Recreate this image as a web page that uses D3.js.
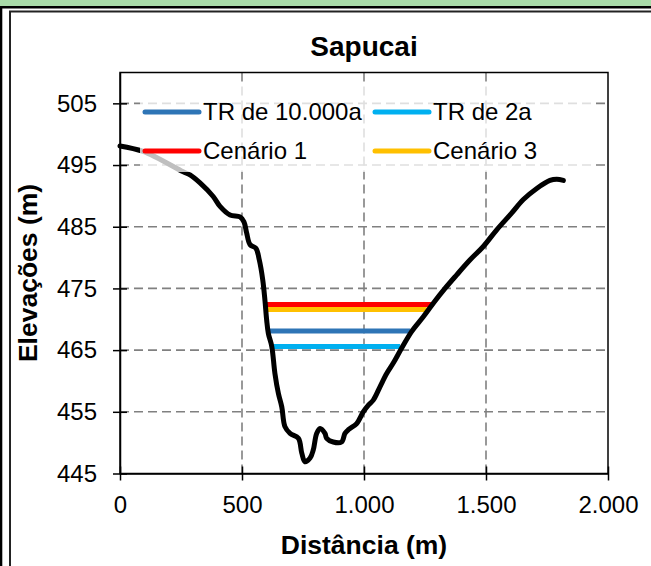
<!DOCTYPE html>
<html>
<head>
<meta charset="utf-8">
<script src="https://cdn.jsdelivr.net/npm/d3@7"></script>
<style>
  body { margin: 0; background: #fff; }
  text { font-family: "Liberation Sans", Arial, sans-serif; fill: #000; }
</style>
</head>
<body>
<script>
// profile of the cross section (distance m, elevation m)
var distance = [0, 95, 259, 287, 328, 382, 410, 451, 492, 508, 519, 533, 557, 571, 585, 594, 601, 608, 622, 635, 649, 663, 676, 697, 731, 745, 758, 779, 792, 806, 820, 840, 847, 874, 908, 922, 936, 970, 997, 1018, 1038, 1066, 1093, 1120, 1154, 1195, 1243, 1284, 1332, 1380, 1434, 1489, 1544, 1605, 1653, 1708, 1762, 1790, 1817];
var elevation = [498.1, 497.2, 493.9, 493.4, 492.1, 489.9, 488.3, 486.9, 486.6, 485.8, 484.0, 482.1, 481.5, 479.6, 476.4, 473.1, 469.9, 467.7, 465.6, 461.2, 458.0, 455.8, 452.6, 451.5, 450.7, 448.3, 446.9, 447.5, 448.8, 451.5, 452.3, 451.5, 450.7, 450.1, 450.1, 451.5, 452.1, 453.1, 455.0, 456.1, 456.9, 459.1, 461.2, 462.9, 465.3, 468.0, 470.4, 472.6, 475.0, 477.2, 479.6, 481.8, 484.5, 487.2, 489.4, 491.2, 492.5, 492.7, 492.5];

// water levels
var levelNames = ["TR de 10.000a", "TR de 2a", "Cenário 1", "Cenário 3"];
var levelElev = [468.1, 465.6, 472.4, 471.6];
var levelStart = [608, 630, 598, 598];
var levelEnd = [1190, 1148, 1284, 1257];
var levelColors = ["#2E75B6", "#00B0F0", "#FF0000", "#FFC000"];

var xTicks = [0, 500, 1000, 1500, 2000];
var yTicks = [445, 455, 465, 475, 485, 495, 505];

var W = 651, H = 566;
var pLeft = 120, pRight = 608, pTop = 72.5, pBottom = 473.5;

var pt = d3.formatLocale({decimal: ",", thousands: ".", grouping: [3], currency: ["R$", ""]});
var fmt = pt.format(",d");

var svg = d3.select("body").append("svg")
    .attr("width", W)
    .attr("height", H);

// outer frame
svg.append("rect").attr("x", 0).attr("y", 0).attr("width", W).attr("height", 6).attr("fill", "#a9dca9");
svg.append("rect").attr("x", 0).attr("y", 6).attr("width", W).attr("height", 2.5).attr("fill", "#000");
svg.append("rect").attr("x", 0).attr("y", 6).attr("width", 2.3).attr("height", H).attr("fill", "#000");
svg.append("path")
    .attr("d", "M10," + H + "V11.5H" + W)
    .attr("fill", "none")
    .attr("stroke", "#222")
    .attr("stroke-width", 2);

var x = d3.scaleLinear().domain([0, 2000]).range([pLeft, pRight]);
var y = d3.scaleLinear().domain([445, 510]).range([pBottom, pTop]);

// grid
svg.append("g").selectAll("line").data(yTicks.filter(function(d) { return d > 445; }))
  .enter().append("line")
    .attr("x1", pLeft).attr("x2", pRight)
    .attr("y1", function(d) { return y(d); }).attr("y2", function(d) { return y(d); })
    .attr("stroke", "#808080").attr("stroke-width", 1.6).attr("stroke-dasharray", "9,5");
svg.append("g").selectAll("line").data(xTicks.filter(function(d) { return d > 0 && d < 2000; }))
  .enter().append("line")
    .attr("y1", pTop).attr("y2", pBottom)
    .attr("x1", function(d) { return x(d); }).attr("x2", function(d) { return x(d); })
    .attr("stroke", "#808080").attr("stroke-width", 1.6).attr("stroke-dasharray", "9,5");

// water level lines
svg.append("g").selectAll("line").data(levelNames)
  .enter().append("line")
    .attr("x1", function(d, i) { return x(levelStart[i]); })
    .attr("x2", function(d, i) { return x(levelEnd[i]); })
    .attr("y1", function(d, i) { return y(levelElev[i]); })
    .attr("y2", function(d, i) { return y(levelElev[i]); })
    .attr("stroke", function(d, i) { return levelColors[i]; })
    .attr("stroke-width", 5);

// terrain profile
var profile = distance.map(function(d, i) { return [d, elevation[i]]; });
svg.append("path")
    .datum(profile)
    .attr("fill", "none")
    .attr("stroke", "#000")
    .attr("stroke-width", 5)
    .attr("stroke-linejoin", "round")
    .attr("stroke-linecap", "round")
    .attr("d", d3.line()
      .x(function(d) { return x(d[0]); })
      .y(function(d) { return y(d[1]); })
      .curve(d3.curveCatmullRom));

// plot border
svg.append("rect")
    .attr("x", pLeft).attr("y", pTop)
    .attr("width", pRight - pLeft).attr("height", pBottom - pTop)
    .attr("fill", "none").attr("stroke", "#000").attr("stroke-width", 1.5);

// axes
var yAxis = svg.append("g")
    .attr("transform", "translate(" + pLeft + ",0)")
    .call(d3.axisLeft(y).tickValues(yTicks).tickSize(7).tickSizeOuter(0).tickPadding(16));
yAxis.selectAll(".tick line").attr("x1", 7).attr("stroke-width", 1.5);
yAxis.select(".domain").attr("stroke-width", 1.5);
yAxis.selectAll("text").style("font-size", "24px").style("font-family", "Liberation Sans, Arial, sans-serif");

var xAxis = svg.append("g")
    .attr("transform", "translate(0," + pBottom + ")")
    .call(d3.axisBottom(x).tickValues(xTicks).tickFormat(fmt).tickSize(7).tickSizeOuter(0).tickPadding(15));
xAxis.selectAll(".tick line").attr("y1", -7).attr("stroke-width", 1.5);
xAxis.select(".domain").attr("stroke-width", 1.5);
xAxis.selectAll("text").style("font-size", "24px").style("font-family", "Liberation Sans, Arial, sans-serif");

// legend (semi-transparent box over the plot)
svg.append("rect")
    .attr("x", 140).attr("y", 85).attr("width", 453).attr("height", 87)
    .attr("fill", "#fff").attr("fill-opacity", 0.75);

var legendOrder = [0, 1, 2, 3];
var lg = svg.append("g").selectAll("g").data(legendOrder)
  .enter().append("g")
    .attr("transform", function(d, i) {
      return "translate(" + (i % 2 === 0 ? 145 : 375) + "," + (i < 2 ? 112 : 151) + ")";
    });
lg.append("line")
    .attr("x1", 0).attr("x2", 54)
    .attr("stroke", function(d) { return levelColors[d]; })
    .attr("stroke-width", 5)
    .attr("stroke-linecap", "round");
lg.append("text")
    .attr("x", 58).attr("dy", "0.35em")
    .style("font-size", "24px")
    .text(function(d) { return levelNames[d]; });

// titles
svg.append("text")
    .attr("x", (pLeft + pRight) / 2).attr("y", 56)
    .attr("text-anchor", "middle")
    .style("font-size", "28px").style("font-weight", "bold")
    .text("Sapucai");

svg.append("text")
    .attr("x", (pLeft + pRight) / 2).attr("y", 554)
    .attr("text-anchor", "middle")
    .style("font-size", "26.5px").style("font-weight", "bold")
    .text("Distância (m)");

svg.append("text")
    .attr("transform", "translate(37," + ((pTop + pBottom) / 2) + ") rotate(-90)")
    .attr("text-anchor", "middle")
    .style("font-size", "26.5px").style("font-weight", "bold")
    .text("Elevações (m)");
</script>
</body>
</html>
